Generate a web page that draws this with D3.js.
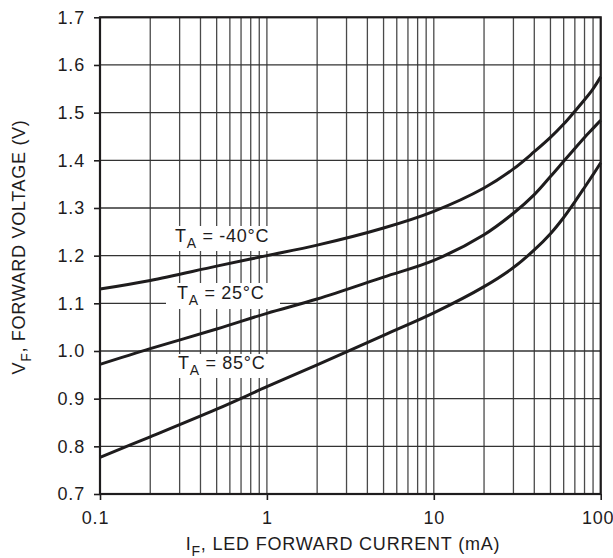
<!DOCTYPE html>
<html><head><meta charset="utf-8">
<script src="https://cdn.jsdelivr.net/npm/d3@7"></script>
<style>
html,body{margin:0;padding:0;background:#fff;}
svg{display:block;font-family:"Liberation Sans",Arial,Helvetica,sans-serif;}
</style></head>
<body>
<svg id="chart" width="613" height="558"></svg>
<script>
// ---- data ----
const currentMA = [0.1,0.2,0.5,1,2,5,10,20,30,40,50,60,70,80,90,100];
const vfMinus40 = [1.13,1.148,1.178,1.2,1.222,1.258,1.293,1.342,1.382,1.418,1.448,1.476,1.503,1.527,1.55,1.575];
const vf25      = [0.972,1.005,1.046,1.079,1.109,1.155,1.19,1.244,1.289,1.328,1.366,1.398,1.425,1.448,1.467,1.484];
const vf85      = [0.777,0.82,0.878,0.925,0.971,1.033,1.08,1.135,1.175,1.212,1.246,1.28,1.313,1.343,1.37,1.395];
const seriesNames = ["-40°C","25°C","85°C"];
const xTickValues = [0.1,1,10,100];
const xTickLabels = ["0.1","1","10","100"];
const yTickValues = [0.7,0.8,0.9,1.0,1.1,1.2,1.3,1.4,1.5,1.6,1.7];
const yTickLabels = ["0.7","0.8","0.9","1.0","1.1","1.2","1.3","1.4","1.5","1.6","1.7"];
const xTitle = ["I","F",", LED FORWARD CURRENT (mA)"];
const yTitle = ["V","F",", FORWARD VOLTAGE (V)"];

// ---- layout ----
const svg = d3.select("#chart");
const L = 100, R = 600.7, T = 17.3, B = 494;
const x = d3.scaleLog().domain([0.1,100]).range([L,R]);
const y = d3.scaleLinear().domain([0.7,1.7]).range([B,T]);
const ink = "#1e1c1d";

// grid
const g = svg.append("g");
g.selectAll("line.vg").data(x.ticks()).join("line")
  .attr("x1",d=>x(d)).attr("x2",d=>x(d)).attr("y1",T).attr("y2",B)
  .attr("stroke","#4a4a4a").attr("stroke-width",1.3);
g.selectAll("line.hg").data(yTickValues).join("line")
  .attr("x1",L).attr("x2",R).attr("y1",d=>y(d)).attr("y2",d=>y(d))
  .attr("stroke","#333").attr("stroke-width",1.3);

// label masks
const labels = [
  {name:seriesNames[0], x:175, y:242, box:[164,226,283,251]},
  {name:seriesNames[1], x:177, y:299, box:[166,283,280,309]},
  {name:seriesNames[2], x:178, y:369, box:[167,354,280,378]}
];
svg.append("g").selectAll("rect").data(labels).join("rect")
  .attr("x",d=>d.box[0]).attr("y",d=>d.box[1])
  .attr("width",d=>d.box[2]-d.box[0]).attr("height",d=>d.box[3]-d.box[1])
  .attr("fill","#fff");

// frame
svg.append("rect").attr("x",L).attr("y",T).attr("width",R-L).attr("height",B-T)
  .attr("fill","none").attr("stroke",ink).attr("stroke-width",2.2);

// axes
const yAxis = d3.axisLeft(y).tickValues(yTickValues).tickFormat((d,i)=>yTickLabels[i]).tickSize(6).tickPadding(9);
const ya = svg.append("g").attr("transform",`translate(${L},0)`).call(yAxis);
const xAxis = d3.axisBottom(x).tickValues(xTickValues).tickFormat((d,i)=>xTickLabels[i]).tickSize(6).tickPadding(6);
const xa = svg.append("g").attr("transform",`translate(0,${B})`).call(xAxis);
[ya,xa].forEach(a=>{
  a.select(".domain").remove();
  a.selectAll(".tick line").attr("stroke",ink).attr("stroke-width",1.6);
  a.selectAll(".tick text").attr("fill",ink).attr("font-size",18)
    .attr("font-family","Liberation Sans, Arial, sans-serif").attr("letter-spacing",0.8);
});
xa.selectAll(".tick text").attr("dy","1em");
xa.selectAll(".tick text").filter((d,i)=>i===0).attr("dx",-5);
xa.selectAll(".tick text").filter((d,i)=>i===3).attr("dx",-3);

// curves
const line = d3.line().x(d=>x(d[0])).y(d=>y(d[1])).curve(d3.curveCatmullRom.alpha(0.5));
[vfMinus40,vf25,vf85].forEach(vals=>{
  svg.append("path").datum(currentMA.map((c,i)=>[c,vals[i]]))
    .attr("d",line).attr("fill","none").attr("stroke",ink)
    .attr("stroke-width",3).attr("stroke-linejoin","round");
});

// series labels
labels.forEach(d=>{
  const t = svg.append("text").attr("x",d.x).attr("y",d.y).attr("fill",ink)
    .attr("font-size",18).attr("letter-spacing",0.7);
  t.append("tspan").text("T");
  t.append("tspan").attr("font-size",14).attr("dy",5.5).text("A");
  t.append("tspan").attr("dy",-5.5).text(" = " + d.name);
});

// axis titles
const xt = svg.append("text").attr("x",343).attr("y",550).attr("text-anchor","middle")
  .attr("fill",ink).attr("font-size",18).attr("letter-spacing",0.8);
xt.append("tspan").text(xTitle[0]);
xt.append("tspan").attr("font-size",14).attr("dy",5.5).text(xTitle[1]);
xt.append("tspan").attr("dy",-5.5).text(xTitle[2]);

const yt = svg.append("text").attr("transform","translate(25,247) rotate(-90)")
  .attr("text-anchor","middle").attr("fill",ink).attr("font-size",18).attr("letter-spacing",0.7);
yt.append("tspan").text(yTitle[0]);
yt.append("tspan").attr("font-size",14).attr("dy",5.5).text(yTitle[1]);
yt.append("tspan").attr("dy",-5.5).text(yTitle[2]);
</script>
</body></html>
